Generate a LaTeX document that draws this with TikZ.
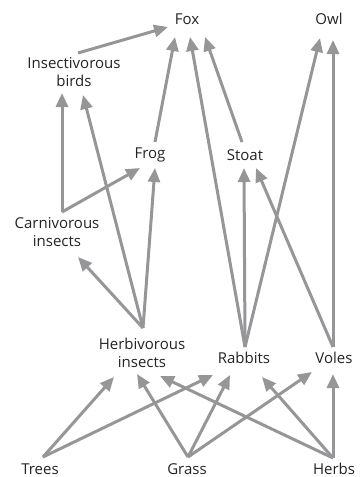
\documentclass[tikz,border=0pt]{standalone}
\usepackage{fontspec}
\setmainfont{Open Sans}
\usepackage{tikz}
\usetikzlibrary{arrows.meta,calc}

\definecolor{linkgray}{RGB}{150,150,153}
\definecolor{textgray}{RGB}{35,35,35}

\tikzset{
    organism/.style={inner sep=0pt, align=center, text=textgray,
        font=\fontsize{15}{17.5}\selectfont},
    feeds/.style={-{Triangle[length=14pt,width=12pt]}, line width=3pt,
        color=linkgray}
}

\begin{document}
\begin{tikzpicture}[x=1pt,y=-1pt]

% Frame of the picture
\useasboundingbox (0,0) rectangle (363,477);

% Top predators
\node[organism] (fox) at (187,19) {Fox};
\node[organism] (owl) at (329,19) {Owl};

% Middle of the web
\node[organism] (birds) at (74,72) {Insectivorous\\birds};
\node[organism] (frog) at (150,155) {Frog};
\node[organism] (stoat) at (245,155) {Stoat};
\node[organism] (carn) at (57,232) {Carnivorous\\insects};

% Herbivores
\node[organism] (herb) at (142,353) {Herbivorous\\insects};
\node[organism] (rabbits) at (244,358) {Rabbits};
\node[organism] (voles) at (334,358) {Voles};

% Producers
\node[organism] (trees) at (40,469) {Trees};
\node[organism] (grass) at (187,469) {Grass};
\node[organism] (herbs) at (334,469) {Herbs};

% Links into the fox and the owl
\draw[feeds] ([shift={(4,-19)}]birds.center) -- ([shift={(-19,8)}]fox.center);
\draw[feeds] ([shift={(5,-13)}]frog.center) -- ([shift={(-12,18)}]fox.center);
\draw[feeds] ([shift={(1,-11)}]rabbits.center) -- ([shift={(3,18)}]fox.center);
\draw[feeds] ([shift={(-3,-13)}]stoat.center) -- ([shift={(18,18)}]fox.center);
\draw[feeds] ([shift={(1,-11)}]rabbits.center) -- ([shift={(-9,19)}]owl.center);
\draw[feeds] ([shift={(-1,-11)}]voles.center) -- ([shift={(4,21)}]owl.center);

% Links into birds, frog and stoat
\draw[feeds] ([shift={(5,-20)}]carn.center) -- ([shift={(-12,21)}]birds.center);
\draw[feeds] ([shift={(1,-25)}]herb.center) -- ([shift={(9,23)}]birds.center);
\draw[feeds] ([shift={(5,-20)}]carn.center) -- ([shift={(-10,13)}]frog.center);
\draw[feeds] ([shift={(1,-25)}]herb.center) -- ([shift={(5,13)}]frog.center);
\draw[feeds] ([shift={(1,-25)}]herb.center) -- ([shift={(21,25)}]carn.center);
\draw[feeds] ([shift={(1,-11)}]rabbits.center) -- ([shift={(-1,13)}]stoat.center);
\draw[feeds] ([shift={(-1,-11)}]voles.center) -- ([shift={(11,13)}]stoat.center);

% Links from the plants
\draw[feeds] ([shift={(3,-12)}]trees.center) -- ([shift={(-28,24)}]herb.center);
\draw[feeds] ([shift={(3,-12)}]trees.center) -- ([shift={(-31,17)}]rabbits.center);
\draw[feeds] ([shift={(1,-12)}]grass.center) -- ([shift={(-5,21)}]herb.center);
\draw[feeds] ([shift={(1,-12)}]grass.center) -- ([shift={(-14,17)}]rabbits.center);
\draw[feeds] ([shift={(1,-12)}]grass.center) -- ([shift={(-22,14)}]voles.center);
\draw[feeds] ([shift={(-1,-11)}]herbs.center) -- ([shift={(18,23)}]herb.center);
\draw[feeds] ([shift={(-1,-11)}]herbs.center) -- ([shift={(18,19)}]rabbits.center);
\draw[feeds] ([shift={(-1,-11)}]herbs.center) -- ([shift={(-1,16)}]voles.center);

\end{tikzpicture}
\end{document}
